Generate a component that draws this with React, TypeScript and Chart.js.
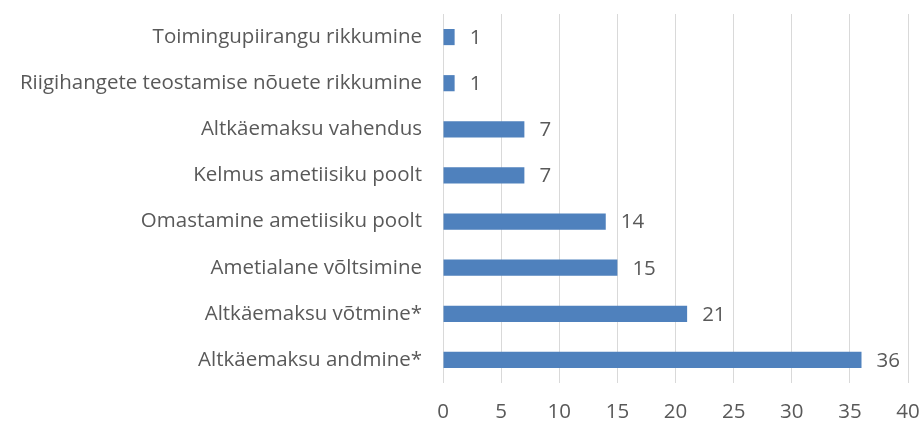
import React, { useEffect, useRef } from "react";
import { Chart, registerables } from "chart.js";

Chart.register(...registerables);

const categories = [
  "Toimingupiirangu rikkumine",
  "Riigihangete teostamise nõuete rikkumine",
  "Altkäemaksu vahendus",
  "Kelmus ametiisiku poolt",
  "Omastamine ametiisiku poolt",
  "Ametialane võltsimine",
  "Altkäemaksu võtmine*",
  "Altkäemaksu andmine*",
];
const values = [1, 1, 7, 7, 14, 15, 21, 36];
const xMin = 0;
const xMax = 40;
const xStep = 5;

const FONT = "'Open Sans', sans-serif";
const TEXT = "#595959";
const SIZE = 20.5;

const valueLabels = {
  id: "valueLabels",
  afterDatasetsDraw(chart: any) {
    const ctx = chart.ctx;
    const meta = chart.getDatasetMeta(0);
    ctx.save();
    ctx.font = `${SIZE}px ${FONT}`;
    ctx.fillStyle = TEXT;
    ctx.textAlign = "left";
    ctx.textBaseline = "middle";
    meta.data.forEach((bar: any, i: number) => {
      ctx.fillText(String(chart.data.datasets[0].data[i]), bar.x + 15, bar.y + 1);
    });
    ctx.restore();
  },
};

export default function App() {
  const ref = useRef<HTMLCanvasElement>(null);
  useEffect(() => {
    if (!ref.current) return;
    const chart = new Chart(ref.current, {
      type: "bar",
      data: {
        labels: categories,
        datasets: [
          {
            data: values,
            backgroundColor: "#4f81bd",
            barPercentage: 0.7,
            categoryPercentage: 0.5,
          },
        ],
      },
      plugins: [valueLabels],
      options: {
        indexAxis: "y",
        animation: false,
        responsive: false,
        maintainAspectRatio: false,
        layout: { padding: { top: 14, right: 16, left: 0, bottom: 0 } },
        plugins: { legend: { display: false }, tooltip: { enabled: false } },
        scales: {
          x: {
            min: xMin,
            max: xMax,
            ticks: {
              stepSize: xStep,
              color: TEXT,
              font: { family: FONT, size: SIZE },
              padding: 17,
              maxRotation: 0,
            },
            grid: { color: "#d9d9d9", lineWidth: 1, drawTicks: false },
            border: { display: false },
            afterFit: (s: any) => {
              s.height = 41;
              s.paddingLeft = 0;
              s.paddingRight = 0;
            },
          },
          y: {
            ticks: {
              color: TEXT,
              font: { family: FONT, size: SIZE },
              padding: 21,
            },
            grid: { display: false, drawTicks: false },
            border: { display: false },
            afterFit: (s: any) => {
              s.width = 443;
              s.paddingTop = 0;
              s.paddingBottom = 0;
            },
          },
        },
      },
    });
    return () => chart.destroy();
  }, []);
  return (
    <div style={{ position: "absolute", left: 0, top: 0, width: 924, height: 424 }}>
      <canvas ref={ref} width={924} height={424} />
    </div>
  );
}
